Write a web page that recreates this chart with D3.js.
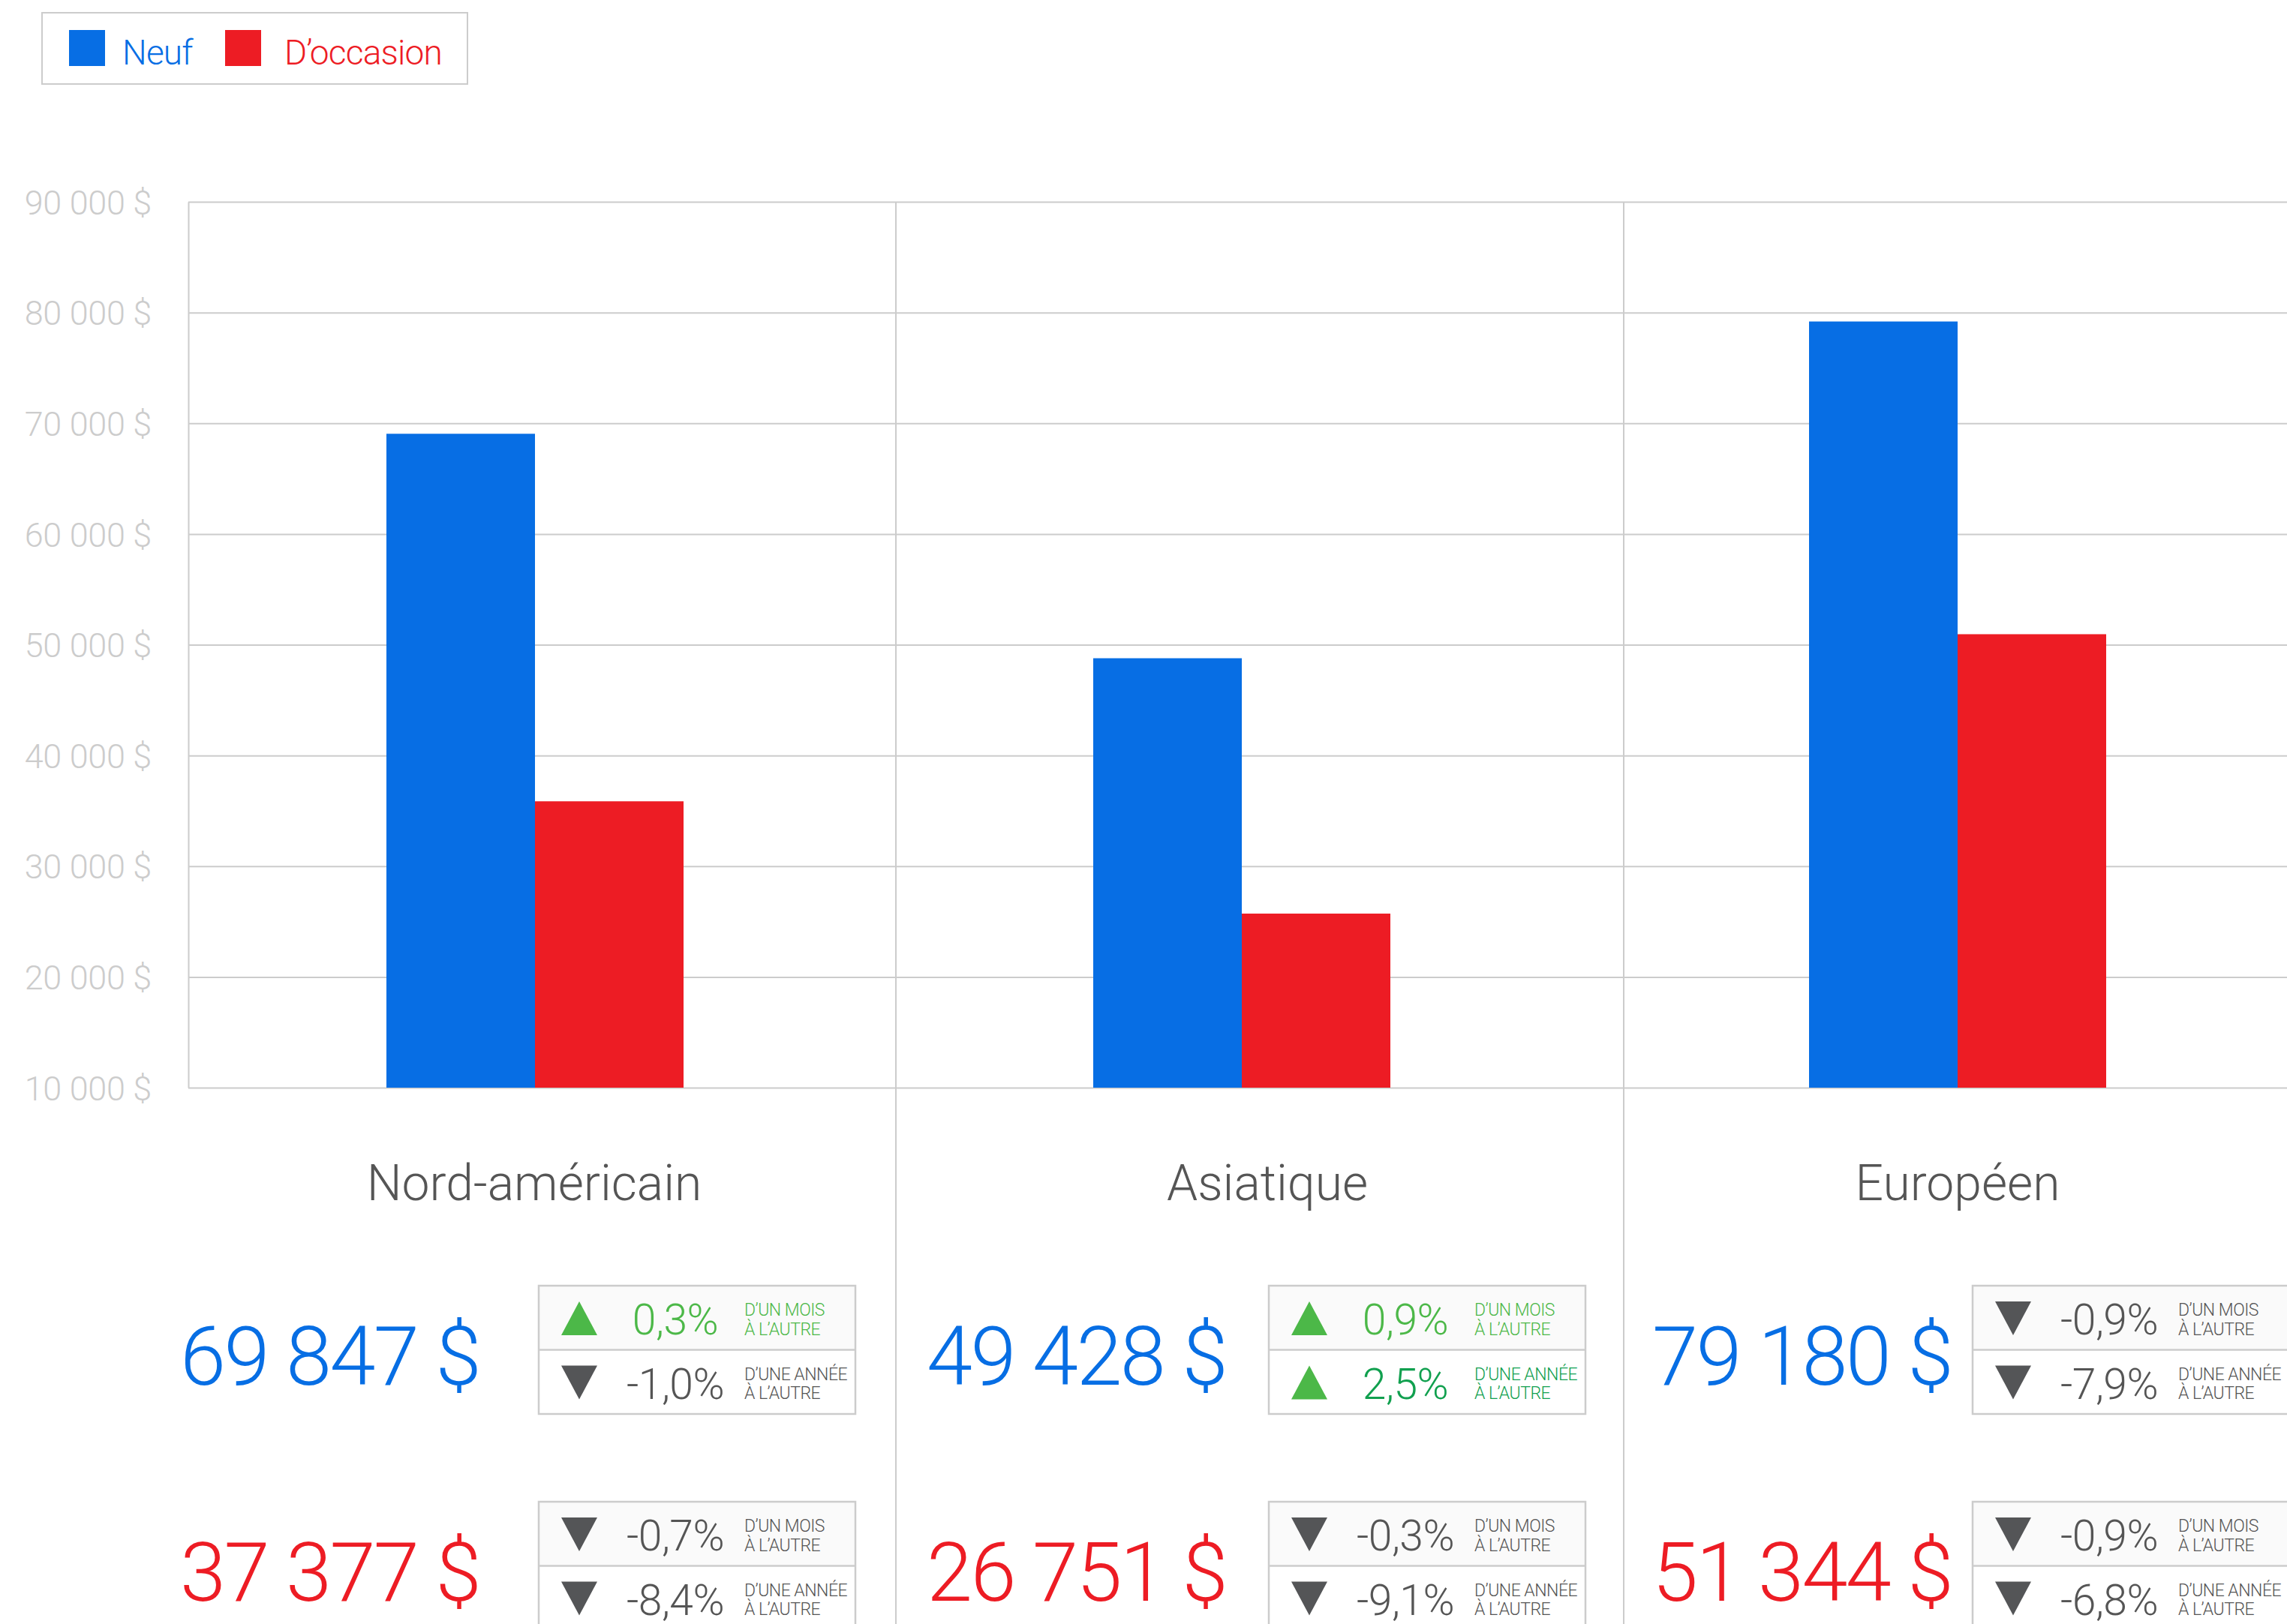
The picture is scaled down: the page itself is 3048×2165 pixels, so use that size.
<!DOCTYPE html>
<html>
<head>
<meta charset="utf-8">
<script src="https://cdn.jsdelivr.net/npm/d3@7"></script>
<style>
  html, body { margin: 0; padding: 0; background: #fff; }
  svg { display: block; font-family: Roboto, "Noto Sans", sans-serif; font-weight: 300; }
</style>
</head>
<body>
<svg id="chart" width="3048" height="2165"></svg>
<script>
// ---------- data ----------
const regions = ["Nord-américain", "Asiatique", "Européen"];
const series = ["Neuf", "D’occasion"];
const barNeuf = [69050, 48780, 79190];
const barOccasion = [35860, 25720, 50950];
const priceNeuf = [69847, 49428, 79180];
const priceOccasion = [37377, 26751, 51344];
const momNeuf = [0.3, 0.9, -0.9];
const yoyNeuf = [-1.0, 2.5, -7.9];
const momOccasion = [-0.7, -0.3, -0.9];
const yoyOccasion = [-8.4, -9.1, -6.8];
const yTicks = [10000, 20000, 30000, 40000, 50000, 60000, 70000, 80000, 90000];
const momLabel = ["D’UN MOIS", "À L’AUTRE"];
const yoyLabel = ["D’UNE ANNÉE", "À L’AUTRE"];

// ---------- style / layout ----------
const W = 3048, H = 2165;
const colors = { "Neuf": "#076ee4", "D’occasion": "#ed1c24" };
const grid = "#cccccc";
const dark = "#555555";
const greenTri = "#4cb848";
const greenMonth = "#4cb848";
const greenYear = "#11a04f";
const plot = { left: 251, right: W, top: 269, bottom: 1450 };
const dividers = [1194, 2164];
const groupCenters = [713, 1655, 2609];
const labelX = [712, 1689, 2609];
const numX = [240, 1235, 2202];
const boxX = [718, 1691, 2629];

const loc = d3.formatLocale({ decimal: ",", thousands: " ", grouping: [3], currency: ["", " $"], minus: "-" });
const fmtMoney = v => loc.format(",")(v) + " $";
const fmtPct = v => loc.format(".1f")(v) + "%";

const svg = d3.select("#chart");

// ---------- scales ----------
const y = d3.scaleLinear().domain([10000, 90000]).range([plot.bottom, plot.top]);
const x0 = d3.scaleOrdinal().domain(regions).range(groupCenters);
const x1 = d3.scaleBand().domain(series).range([-198, 198]).padding(0);

// ---------- axis & gridlines ----------
const axis = d3.axisLeft(y)
  .tickValues(yTicks)
  .tickSize(-(plot.right - plot.left))
  .tickSizeOuter(0)
  .tickPadding(49)
  .tickFormat(fmtMoney);
const gAxis = svg.append("g").attr("transform", `translate(${plot.left},0)`).call(axis);
gAxis.select(".domain").attr("stroke", grid).attr("stroke-width", 2);
gAxis.selectAll(".tick line").attr("stroke", grid).attr("stroke-width", 2);
gAxis.selectAll(".tick text")
  .attr("fill", "#cccccc")
  .attr("font-size", 45)
  .attr("font-family", "Roboto, sans-serif")
  .attr("font-weight", 300)
  .attr("letter-spacing", -0.3)
  .attr("dy", "0.36em");

// column dividers
svg.append("g").selectAll("line").data(dividers).join("line")
  .attr("x1", d => d).attr("x2", d => d)
  .attr("y1", plot.top).attr("y2", H)
  .attr("stroke", grid).attr("stroke-width", 2);

// ---------- bars ----------
const barData = [];
regions.forEach((r, i) => {
  barData.push({ region: r, series: series[0], value: barNeuf[i] });
  barData.push({ region: r, series: series[1], value: barOccasion[i] });
});
svg.append("g").selectAll("rect").data(barData).join("rect")
  .attr("x", d => x0(d.region) + x1(d.series))
  .attr("width", x1.bandwidth())
  .attr("y", d => y(d.value))
  .attr("height", d => y(10000) - y(d.value))
  .attr("fill", d => colors[d.series]);

// ---------- legend ----------
const lg = svg.append("g");
lg.append("rect").attr("x", 56).attr("y", 17).attr("width", 567).attr("height", 95)
  .attr("fill", "#fff").attr("stroke", grid).attr("stroke-width", 2);
const legendItems = [{ s: series[0], sx: 92, tx: 163 }, { s: series[1], sx: 300, tx: 379 }];
legendItems.forEach(it => {
  lg.append("rect").attr("x", it.sx).attr("y", 40).attr("width", 48).attr("height", 48).attr("fill", colors[it.s]);
  lg.append("text").attr("x", it.tx).attr("y", 86).attr("font-size", 46).attr("letter-spacing", -0.8)
    .attr("fill", colors[it.s]).text(it.s);
});

// ---------- region labels ----------
svg.append("g").selectAll("text").data(regions).join("text")
  .attr("x", (d, i) => labelX[i]).attr("y", 1600)
  .attr("text-anchor", "middle").attr("font-size", 66).attr("fill", dark)
  .text(d => d);

// ---------- stats ----------
function triangle(g, cx, top, up, color) {
  const w = 48, h = 45;
  const pts = up
    ? [[cx - w / 2, top + h], [cx + w / 2, top + h], [cx, top]]
    : [[cx - w / 2, top], [cx + w / 2, top], [cx, top + h]];
  g.append("path").attr("d", "M" + pts.map(p => p.join(",")).join("L") + "Z").attr("fill", color);
}

function statBlock(i, price, mom, yoy, color, top) {
  const g = svg.append("g");
  const numBaseline = top + 132;
  g.append("text").attr("x", numX[i]).attr("y", numBaseline)
    .attr("font-size", 110).attr("letter-spacing", -2.6).attr("fill", color).text(fmtMoney(price));

  const bx = boxX[i], bw = 422, rh = 85.5;
  g.append("rect").attr("x", bx).attr("y", top).attr("width", bw).attr("height", rh).attr("fill", "#fafafa");
  g.append("rect").attr("x", bx).attr("y", top + rh).attr("width", bw).attr("height", rh).attr("fill", "#ffffff");
  g.append("rect").attr("x", bx).attr("y", top).attr("width", bw).attr("height", rh * 2)
    .attr("fill", "none").attr("stroke", grid).attr("stroke-width", 2.5);
  g.append("line").attr("x1", bx).attr("x2", bx + bw).attr("y1", top + rh).attr("y2", top + rh)
    .attr("stroke", grid).attr("stroke-width", 2.5);

  const rows = [
    { v: mom, lab: momLabel, green: greenMonth },
    { v: yoy, lab: yoyLabel, green: greenYear }
  ];
  rows.forEach((r, k) => {
    const rt = top + k * rh;
    const up = r.v > 0;
    const c = up ? r.green : dark;
    triangle(g, bx + 54, rt + 21, up, up ? greenTri : "#545557");
    g.append("text").attr("x", bx + 182).attr("y", rt + 65)
      .attr("text-anchor", "middle").attr("font-size", 57).attr("letter-spacing", -0.5).attr("fill", c).text(fmtPct(r.v));
    r.lab.forEach((t, j) => {
      g.append("text").attr("x", bx + 274).attr("y", rt + 40 + j * 25.5)
        .attr("font-size", 23).attr("letter-spacing", -0.5).attr("fill", c).attr("font-weight", 300).text(t);
    });
  });
}

regions.forEach((r, i) => {
  statBlock(i, priceNeuf[i], momNeuf[i], yoyNeuf[i], colors["Neuf"], 1714);
  statBlock(i, priceOccasion[i], momOccasion[i], yoyOccasion[i], colors["D’occasion"], 2002);
});
</script>
</body>
</html>
